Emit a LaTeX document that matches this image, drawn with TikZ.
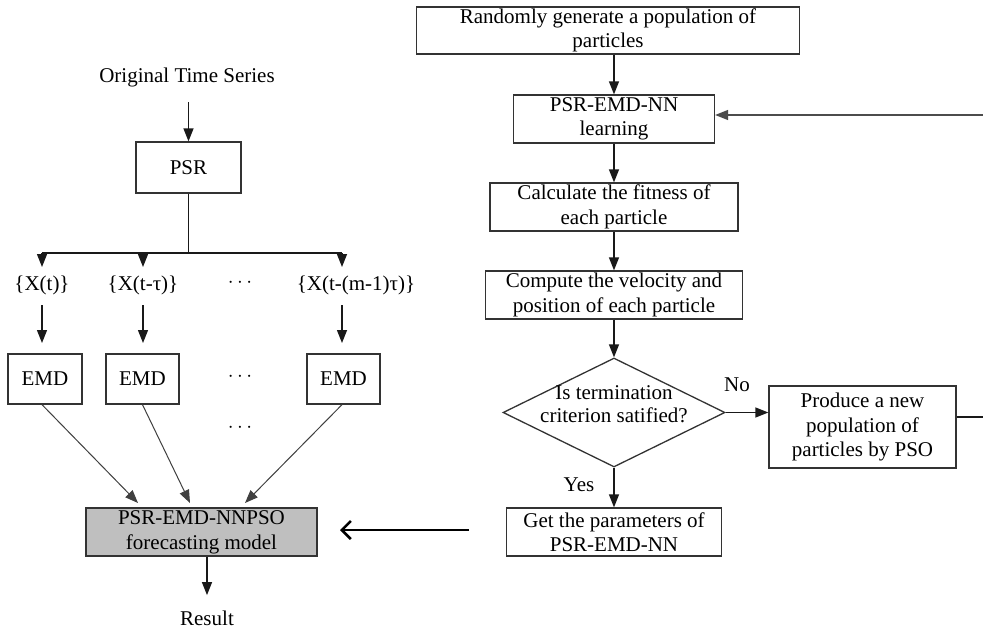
\documentclass[tikz,border=0pt]{standalone}
\usepackage{fontspec}
\setmainfont{Liberation Serif}
\usetikzlibrary{arrows.meta,shapes.geometric,calc}
\begin{document}
\begin{tikzpicture}[x=1pt,y=-1pt,
  txt/.style={font=\fontsize{21}{24.5}\selectfont, align=center},
  box/.style={txt, draw=black!80, line width=1.3pt, inner sep=0pt},
  arr/.style={draw=black!90, line width=1.4pt, -{Triangle[length=13pt,width=10pt]}},
  thinarr/.style={draw=black!75, line width=1pt, -{Triangle[length=13pt,width=10pt]}},
  ln/.style={draw=black!90, line width=1.4pt},
  bigarr/.style={draw=black, line width=2.6pt, -{Straight Barb[length=9pt,width=18pt,line width=2.6pt]}}]
\useasboundingbox (0,0) rectangle (983,635);
\fill[white] (0,0) rectangle (983,635);

% ---------- left part ----------
\node[txt] (orig) at (187,77) {Original Time Series};
\node[box, minimum width=105pt, minimum height=51pt] (psr) at (188.5,167.5) {PSR};
\draw[arr, shorten <=12pt] (orig.south -| psr.north) -- (psr.north);
\draw[ln] (psr.south) -- ++(0,59.5) coordinate (j);

\node[txt] (x1) at (42,285) {\{X(t)\}};
\node[txt] (x2) at (143,285) {\{X(t-τ)\}};
\node[txt] (xd) at (240,283) {$\cdots$};
\node[txt] (x3) at (356,285) {\{X(t-(m-1)τ)\}};
\coordinate (x3c) at (342,285);

\draw[ln] (x1 |- j) -- (x3c |- j);
\draw[arr] (x1 |- j) -- (x1 |- 0,267);
\draw[arr] (x2 |- j) -- (x2 |- 0,267);
\draw[arr] (x3c |- j) -- (x3c |- 0,267);

\node[box, minimum width=74pt, minimum height=50pt] (e1) at (45,379) {EMD};
\node[box, minimum width=73pt, minimum height=50pt] (e2) at (142.5,379) {EMD};
\node[txt] (ed1) at (240,377) {$\cdots$};
\node[box, minimum width=73pt, minimum height=50pt] (e3) at (343.5,379) {EMD};
\node[txt] (ed2) at (240,428) {$\cdots$};

\draw[arr] (x1 |- 0,305) -- (x1 |- 0,343);
\draw[arr] (x2 |- 0,305) -- (x2 |- 0,343);
\draw[arr] (x3c |- 0,305) -- (x3c |- 0,343);

\node[box, fill=black!25, minimum width=231pt, minimum height=48pt,
      font=\fontsize{21}{25}\selectfont] (gray) at (201.5,532)
      {PSR-EMD-NNPSO\\forecasting model};
\coordinate (t1) at (138,503);
\coordinate (t2) at (190,503);
\coordinate (t3) at (245,503);
\draw[thinarr] (e1.south -| x1) -- (t1);
\draw[thinarr] (e2.south) -- (t2);
\draw[thinarr] (e3.south -| x3c) -- (t3);

\node[txt] (res) at (207,618) {Result};
\draw[arr, shorten >=12pt] (gray.south -| res) -- (res.north);

% ---------- right part ----------
\node[box, minimum width=383pt, minimum height=47pt] (rand) at (608,30.5)
      {Randomly generate a population of\\particles};
\node[box, minimum width=201pt, minimum height=48pt] (learn) at (614,119)
      {PSR-EMD-NN\\learning};
\node[box, minimum width=248pt, minimum height=48pt] (calc) at (614,207)
      {Calculate the fitness of\\each particle};
\node[box, minimum width=257pt, minimum height=48pt] (comp) at (614,295)
      {Compute the velocity and\\position of each particle};
\node[diamond, draw=black!80, line width=1.3pt, inner sep=0pt,
      minimum width=222pt, minimum height=109pt] (dia) at (614,412.5) {};
\node[txt, font=\fontsize{21}{22.5}\selectfont] (diat) at (614,404)
      {Is termination\\criterion satified?};
\node[box, minimum width=187pt, minimum height=82pt] (prod) at (862.5,427)
      {Produce a new\\population of\\particles by PSO};
\node[box, minimum width=215pt, minimum height=48pt] (get) at (614,532)
      {Get the parameters of\\PSR-EMD-NN};

\draw[arr] (rand.south -| learn) -- (learn.north);
\draw[arr] (learn.south) -- (calc.north);
\draw[arr] (calc.south) -- (comp.north);
\draw[arr] (comp.south) -- (dia.north);
\draw[arr] (dia.east) -- (prod.west |- dia.east);
\draw[arr] (dia.south) -- (get.north);
\node[txt] (no) at (737,385) {No};
\node[txt] (yes) at (579,485) {Yes};

\coordinate (fb1) at (983,417);
\coordinate (fb2) at (983,115);
\draw[ln] (prod.east |- fb1) -- (fb1);
\draw[arr, draw=black!70] (fb2) -- (learn.east |- fb2);

\coordinate (ba1) at (469,530);
\coordinate (ba2) at (340,530);
\draw[bigarr] (ba1) -- (ba2);
\end{tikzpicture}
\end{document}
